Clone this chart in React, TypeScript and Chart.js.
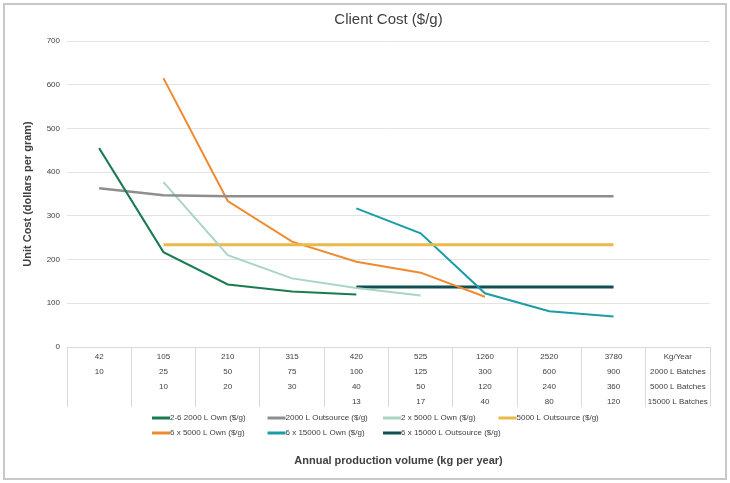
import React, { useEffect, useRef } from "react";
import { Chart, registerables } from "chart.js";

Chart.register(...registerables);

// ---- Data ----
const kgPerYear = ["42", "105", "210", "315", "420", "525", "1260", "2520", "3780", "Kg/Year"];
const batches2000 = ["10", "25", "50", "75", "100", "125", "300", "600", "900", "2000 L Batches"];
const batches5000 = ["", "10", "20", "30", "40", "50", "120", "240", "360", "5000 L Batches"];
const batches15000 = ["", "", "", "", "13", "17", "40", "80", "120", "15000 L Batches"];

const own2000_2to6 = [455, 217, 143, 127, 120, null, null, null, null, null];
const outsource2000 = [363, 347, 345, 345, 345, 345, 345, 345, 345, null];
const own5000_2x = [null, 377, 210, 157, 135, 118, null, null, null, null];
const outsource5000 = [null, 234, 234, 234, 234, 234, 234, 234, 234, null];
const own5000_6x = [null, 615, 334, 241, 195, 170, 115, null, null, null];
const own15000_6x = [null, null, null, null, 317, 260, 123, 82, 70, null];
const outsource15000 = [null, null, null, null, 137, 137, 137, 137, 137, null];

const seriesLabels = [
  "2-6 2000 L Own ($/g)",
  "2000 L Outsource ($/g)",
  "2 x 5000 L Own ($/g)",
  "5000 L Outsource ($/g)",
  "6 x 5000 L Own ($/g)",
  "6 x 15000 L Own ($/g)",
  "6 x 15000 L Outsource ($/g)",
];
const seriesValues = [own2000_2to6, outsource2000, own5000_2x, outsource5000, own5000_6x, own15000_6x, outsource15000];
const seriesColors = ["#1b7b50", "#8e8e8e", "#a9d5c3", "#e9b94a", "#ef8a30", "#1b9ca6", "#134f52"];
const seriesWidths = [2, 2.5, 2, 3, 2, 2, 3];

const yTitle = "Unit Cost (dollars per gram)";
const xTitle = "Annual production volume (kg per year)";
const chartTitle = "Client Cost ($/g)";

const FONT = "'Liberation Sans', Arial, sans-serif";
const TEXT = "#404040";

const gridLegend = {
  id: "gridLegend",
  afterDraw(chart: any) {
    const { ctx, chartArea } = chart;
    const xScale = chart.scales.x;
    const colW = 115.5;
    const rowH = 15;
    const perRow = 4;
    const x0 = chartArea.left + 85;
    const y0 = xScale.bottom + 11;
    ctx.save();
    ctx.font = `8px ${FONT}`;
    ctx.textBaseline = "middle";
    ctx.textAlign = "left";
    chart.data.datasets.forEach((ds: any, i: number) => {
      const col = i % perRow;
      const row = Math.floor(i / perRow);
      const x = x0 + col * colW;
      const y = y0 + row * rowH;
      ctx.strokeStyle = ds.borderColor;
      ctx.lineWidth = 3;
      ctx.beginPath();
      ctx.moveTo(x, y);
      ctx.lineTo(x + 18, y);
      ctx.stroke();
      ctx.fillStyle = TEXT;
      ctx.fillText(ds.label, x + 18, y);
    });
    // x-axis title
    ctx.font = `bold 11px ${FONT}`;
    ctx.textAlign = "center";
    ctx.fillStyle = TEXT;
    ctx.fillText(xTitle, (chartArea.left + chartArea.right) / 2 + 10, y0 + 2 * rowH + 13);
    ctx.restore();
  },
};

export default function App() {
  const ref = useRef<HTMLCanvasElement | null>(null);

  useEffect(() => {
    document.body.style.margin = "0";
    if (!ref.current) return;
    const labels = kgPerYear.map((k, i) => [k, batches2000[i], batches5000[i], batches15000[i]]);
    const chart = new Chart(ref.current, {
      type: "line",
      data: {
        labels,
        datasets: seriesLabels.map((label, i) => ({
          label,
          data: seriesValues[i],
          borderColor: seriesColors[i],
          backgroundColor: seriesColors[i],
          borderWidth: seriesWidths[i],
          pointRadius: 0,
          pointHoverRadius: 0,
          tension: 0,
          fill: false,
          spanGaps: false,
        })),
      },
      options: {
        animation: false,
        responsive: false,
        layout: { padding: { left: 17, right: 20, top: 0, bottom: 76 } },
        plugins: {
          legend: { display: false },
          tooltip: { enabled: false },
          title: {
            display: true,
            text: chartTitle,
            color: TEXT,
            fullSize: false,
            font: { family: FONT, size: 15, weight: "normal" },
            padding: { top: 11, bottom: 12 },
          },
        },
        scales: {
          x: {
            type: "category",
            offset: true,
            grid: {
              offset: true,
              drawOnChartArea: false,
              drawTicks: true,
              tickLength: 60,
              color: "#d9d9d9",
              tickColor: "#d9d9d9",
            },
            border: { display: true, color: "#d9d9d9" },
            ticks: {
              autoSkip: false,
              maxRotation: 0,
              minRotation: 0,
              padding: -57.5,
              color: TEXT,
              font: { family: FONT, size: 8, lineHeight: 1.875 },
            },
            afterFit: (scale: any) => {
              scale.height = 60;
            },
          },
          y: {
            min: 0,
            max: 700,
            ticks: {
              stepSize: 100,
              padding: 7,
              color: TEXT,
              font: { family: FONT, size: 8 },
            },
            grid: { color: "#e3e3e3", drawTicks: false },
            border: { display: false },
            title: {
              display: true,
              text: yTitle,
              color: TEXT,
              font: { family: FONT, size: 11, weight: "bold" },
            },
            afterFit: (scale: any) => {
              scale.width = 50;
            },
          },
        },
      },
      plugins: [gridLegend],
    });
    return () => chart.destroy();
  }, []);

  return (
    <div style={{ position: "relative", width: 730, height: 483, background: "#fff" }}>
      <div
        style={{
          position: "absolute",
          left: 3,
          top: 3,
          width: 724,
          height: 477,
          border: "2px solid #c8c8c8",
          boxSizing: "border-box",
        }}
      />
      <canvas ref={ref} width={730} height={483} style={{ position: "absolute", left: 0, top: 0, width: 730, height: 483 }} />
    </div>
  );
}
